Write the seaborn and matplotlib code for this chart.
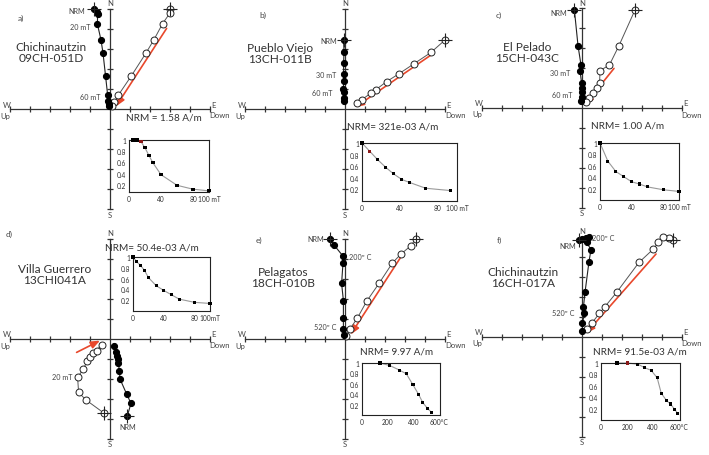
import matplotlib
matplotlib.use("Agg")
import matplotlib.pyplot as plt
import seaborn as sns

W, H = 709, 456

sns.set_theme(style="white")
plt.rcParams["font.family"] = ["Lato", "DejaVu Sans"]

# ── DATA ── (Zijderveld values in axis-tick units, NRM step first)
# a) Chichinautzin 09CH-051D
a_hor_e = [-0.78, -0.67, -0.62, -0.63, -0.45, -0.35, -0.22, -0.12, -0.08, -0.05, -0.03]
a_hor_n = [5.0, 4.87, 4.75, 4.25, 3.45, 2.8, 1.63, 0.72, 0.42, 0.25, 0.13]
a_ver_d = [3.0, 3.0, 2.63, 2.2, 1.8, 1.05, 0.42, 0.22, 0.08]
a_ver_n = [5.0, 4.8, 4.27, 3.47, 2.8, 1.63, 0.7, 0.33, 0.13]
a_fit_x = [2.83, 0.3]
a_fit_y = [4.03, 0.13]
a_step = [5, 10, 15, 20, 25, 30, 40, 60, 80, 100]
a_mag = [1.0, 1.0, 0.97, 0.86, 0.72, 0.59, 0.38, 0.19, 0.12, 0.09]

# b) Pueblo Viejo 13CH-011B
b_hor_e = [-0.07, -0.05, -0.07, -0.07, -0.07, -0.08, -0.07, -0.07, -0.07]
b_hor_n = [3.45, 2.87, 2.28, 1.75, 1.4, 1.0, 0.83, 0.55, 0.42]
b_ver_d = [5.0, 4.3, 3.43, 2.68, 2.08, 1.55, 1.3, 0.85, 0.62]
b_ver_n = [3.45, 2.83, 2.25, 1.75, 1.37, 0.97, 0.8, 0.47, 0.3]
b_fit_x = [4.3, 0.5]
b_fit_y = [2.7, 0.08]
b_step = [0, 8, 16, 25, 33, 42, 50, 67, 93]
b_mag = [1.0, 0.86, 0.72, 0.58, 0.47, 0.37, 0.32, 0.22, 0.18]

# c) El Pelado 15CH-043C
c_hor_e = [-0.38, -0.2, -0.05, -0.1, -0.02, -0.02, 0.0, -0.02, -0.03]
c_hor_n = [4.9, 3.12, 2.15, 1.87, 1.25, 0.98, 0.78, 0.53, 0.37]
c_ver_d = [2.65, 1.85, 1.37, 0.9, 0.88, 0.73, 0.57, 0.33, 0.2]
c_ver_n = [4.9, 3.12, 2.15, 1.87, 1.25, 0.98, 0.75, 0.5, 0.28]
c_fit_x = [1.6, 0.13]
c_fit_y = [1.98, 0.15]
c_step = [0, 10, 20, 30, 40, 50, 60, 80, 100]
c_mag = [1.0, 0.68, 0.5, 0.41, 0.32, 0.28, 0.23, 0.18, 0.15]

# d) Villa Guerrero 13CHI041A
d_hor_e = [0.87, 1.05, 0.83, 0.5, 0.47, 0.42, 0.42, 0.37, 0.3, 0.22]
d_hor_n = [-3.83, -3.22, -2.75, -2.0, -1.58, -1.22, -1.0, -0.83, -0.67, -0.33]
d_ver_d = [-0.28, -1.2, -1.57, -1.62, -1.33, -1.13, -1.0, -0.83, -0.67, -0.42]
d_ver_n = [-3.72, -3.05, -2.67, -1.92, -1.5, -1.08, -0.88, -0.72, -0.58, -0.28]
d_fit_x = [-1.67, -0.5]
d_fit_y = [-0.67, -0.08]
d_step = [0, 5, 10, 15, 20, 30, 40, 50, 60, 80, 100]
d_mag = [1.0, 0.91, 0.84, 0.75, 0.62, 0.47, 0.38, 0.30, 0.22, 0.16, 0.14]

# e) Pelagatos 18CH-010B
e_hor_e = [-0.75, -0.55, -0.12, -0.1, -0.17, -0.08, -0.08, -0.08, -0.05]
e_hor_n = [5.0, 4.7, 4.17, 3.8, 2.78, 1.92, 1.05, 0.5, 0.2]
e_ver_d = [3.53, 3.3, 2.78, 2.37, 1.7, 1.08, 0.62, 0.25, 0.05]
e_ver_n = [5.0, 4.67, 4.23, 3.8, 2.78, 1.88, 1.05, 0.5, 0.17]
e_fit_x = [2.78, 0.28]
e_fit_y = [4.08, 0.22]
e_step = [140, 217, 294, 345, 396, 439, 472, 511, 541]
e_mag = [1.0, 0.95, 0.86, 0.79, 0.58, 0.4, 0.24, 0.12, 0.05]

# f) Chichinautzin 16CH-017A
f_hor_e = [-0.15, 0.02, 0.18, 0.35, 0.23, 0.45, 0.35, 0.15, 0.07, 0.12, 0.02, 0.02]
f_hor_n = [4.87, 4.9, 4.95, 5.02, 4.73, 4.37, 3.77, 2.23, 1.48, 1.18, 0.68, 0.28]
f_ver_d = [4.57, 4.37, 4.07, 3.82, 3.57, 2.85, 1.73, 1.15, 0.87, 0.48, 0.27]
f_ver_n = [4.85, 4.95, 5.02, 4.73, 4.4, 3.73, 2.23, 1.52, 1.18, 0.68, 0.4]
f_fit_x = [3.7, 0.2]
f_fit_y = [4.15, 0.18]
f_step = [123, 200, 282, 333, 385, 431, 462, 503, 533, 564, 590]
f_mag = [1.0, 1.0, 0.98, 0.92, 0.87, 0.74, 0.47, 0.34, 0.28, 0.19, 0.11]

names = ["Chichinautzin\n09CH-051D", "Pueblo Viejo\n13CH-011B", "El Pelado\n15CH-043C",
         "Villa Guerrero\n13CHI041A", "Pelagatos\n18CH-010B", "Chichinautzin\n16CH-017A"]
nrm_labels = ["NRM = 1.58 A/m", "NRM= 321e-03 A/m", "NRM= 1.00 A/m",
              "NRM= 50.4e-03 A/m", "NRM= 9.97 A/m", "NRM= 91.5e-03 A/m"]
letters = ["a)", "b)", "c)", "d)", "e)", "f)"]
af_ticks = [0, 40, 80, 100]
th_ticks = [0, 200, 400, 600]

# ── LAYOUT (pixels) ──
origins = [(110, 110), (345, 110), (582, 109), (110, 340), (345, 340), (582, 338)]
inset_boxes = [(129, 141, 209, 193), (362, 144, 457, 202), (600, 144, 679, 201),
               (133, 258, 210, 312), (362, 364, 440, 416), (601, 364, 680, 421)]
name_pos = [(51, 53), (280, 54), (527, 53), (55, 275), (283, 278), (523, 278)]
nrm_pos = [(164, 118), (393, 127), (628, 126), (152, 248), (397, 352), (640, 352)]
letter_pos = [(21, 18), (263, 15), (499, 15), (9, 234), (259, 240), (499, 240)]
# step labels: (x, y, text, ha)
step_labels = [
    [(85, 11, "NRM", "right"), (90, 28, "20 mT", "right"), (101, 97, "60 mT", "right")],
    [(337, 41, "NRM", "right"), (336, 76, "30 mT", "right"), (333, 94, "60 mT", "right")],
    [(567, 13, "NRM", "right"), (570, 73, "30 mT", "right"), (573, 95, "60 mT", "right")],
    [(73, 378, "20 mT", "right"), (128, 428, "NRM", "center")],
    [(324, 240, "NRM", "right"), (349, 257, "200º C", "left"), (336, 328, "520º C", "right")],
    [(576, 247, "NRM", "right"), (592, 239, "200º C", "left"), (575, 314, "520º C", "right")],
]

panels = [
    (a_hor_e, a_hor_n, a_ver_d, a_ver_n, a_fit_x, a_fit_y, a_step, a_mag, 2, (0.07, 1.0), "af"),
    (b_hor_e, b_hor_n, b_ver_d, b_ver_n, b_fit_x, b_fit_y, b_step, b_mag, 1, (0.0, 1.0), "af"),
    (c_hor_e, c_hor_n, c_ver_d, c_ver_n, c_fit_x, c_fit_y, c_step, c_mag, None, (0.0, 1.0), "af"),
    (d_hor_e, d_hor_n, d_ver_d, d_ver_n, d_fit_x, d_fit_y, d_step, d_mag, None, (0.0, 1.0), "af2"),
    (e_hor_e, e_hor_n, e_ver_d, e_ver_n, e_fit_x, e_fit_y, e_step, e_mag, None, (0.0, 1.0), "th"),
    (f_hor_e, f_hor_n, f_ver_d, f_ver_n, f_fit_x, f_fit_y, f_step, f_mag, 1, (0.0, 1.0), "th"),
]

AX_COL = "#333333"
TXT_COL = "#444444"
RED = "#e8482c"

fig = plt.figure(figsize=(W / 100, H / 100), dpi=100)


def fx(px):
    return px / W


def fy(py):
    return 1 - py / H


def ftext(px, py, s, **kw):
    fig.text(fx(px), fy(py), s, va="center", **kw)


for i, p in enumerate(panels):
    he, hn, vd, vn, fitx, fity, step, mag, red_i, ylim, kind = p
    ox, oy = origins[i]

    ax = fig.add_axes([fx(ox - 100), fy(oy + 100), 200 / W, 200 / H])
    ax.set_facecolor("none")
    ax.set_xlim(-5, 5)
    ax.set_ylim(-5, 5)
    for s in ["top", "right"]:
        ax.spines[s].set_visible(False)
    for s in ["left", "bottom"]:
        ax.spines[s].set_position(("data", 0))
        ax.spines[s].set_color(AX_COL)
        ax.spines[s].set_linewidth(0.9)
    ticks = [-5, -4, -3, -2, -1, 1, 2, 3, 4, 5]
    ax.set_xticks(ticks)
    ax.set_yticks(ticks)
    ax.set_xticklabels([])
    ax.set_yticklabels([])
    ax.tick_params(bottom=True, left=True, direction="inout", length=5,
                   width=0.9, color=AX_COL)

    # fitted direction
    ax.annotate("", xy=(fitx[1], fity[1]), xytext=(fitx[0], fity[0]),
                arrowprops=dict(arrowstyle="-|>,head_length=0.45,head_width=0.18",
                                color=RED, lw=1.2, shrinkA=0, shrinkB=0), zorder=2)

    # vertical projection (open) and horizontal projection (filled)
    sns.lineplot(x=vd, y=vn, sort=False, estimator=None, ax=ax, color="#555555",
                 lw=0.7, marker="o", markersize=5, markerfacecolor="white",
                 markeredgecolor="#222222", markeredgewidth=0.7, clip_on=False, zorder=3)
    sns.lineplot(x=he, y=hn, sort=False, estimator=None, ax=ax, color="#222222",
                 lw=0.8, marker="o", markersize=4.4, markerfacecolor="black",
                 markeredgecolor="black", clip_on=False, zorder=4)
    sns.scatterplot(x=[vd[0], he[0]], y=[vn[0], hn[0]], marker="+", s=110,
                    color="#222222", linewidth=0.8, ax=ax, zorder=5, clip_on=False)

    # axis end labels
    ftext(ox, oy - 106, "N", ha="center", fontsize=5.5, color=TXT_COL)
    ftext(ox, oy + 105, "S", ha="center", fontsize=5.5, color=TXT_COL)
    ftext(ox - 103, oy - 5, "W", ha="center", fontsize=5.5, color=TXT_COL)
    ftext(ox - 105, oy + 6, "Up", ha="center", fontsize=5.5, color=TXT_COL)
    ftext(ox + 103, oy - 5, "E", ha="center", fontsize=5.5, color=TXT_COL)
    ftext(ox + 110, oy + 6, "Down", ha="center", fontsize=5.5, color=TXT_COL)

    ftext(*letter_pos[i], letters[i], ha="center", fontsize=6, color=TXT_COL)
    ftext(*name_pos[i], names[i], ha="center", fontsize=8.6, color="#333333",
          linespacing=1.1)
    ftext(*nrm_pos[i], nrm_labels[i], ha="center", fontsize=7.2, color="#333333")
    for (lx, ly, lt, lha) in step_labels[i]:
        ftext(lx, ly, lt, ha=lha, fontsize=5.2, color=TXT_COL)

    # demagnetization inset
    x0, y0, x1, y1 = inset_boxes[i]
    ins = fig.add_axes([fx(x0), fy(y1), (x1 - x0) / W, (y1 - y0) / H])
    ins.set_facecolor("white")
    sns.lineplot(x=step, y=mag, sort=False, estimator=None, ax=ins, color="#9a9a9a",
                 lw=0.8, clip_on=False)
    pt_cols = ["#8b1a1a" if k == red_i else "black" for k in range(len(step))]
    sns.scatterplot(x=step, y=mag, ax=ins, marker="s", s=5, c=pt_cols,
                    linewidth=0, zorder=4, clip_on=False)
    if kind == "th":
        ins.set_xlim(0, 606)
        ins.set_xticks(th_ticks)
        ins.set_xticklabels(["0", "200", "400", "600°C"])
    else:
        ins.set_xlim(0, 100)
        ins.set_xticks(af_ticks)
        ins.set_xticklabels(["0", "40", "80", "100mT" if kind == "af2" else "100 mT"])
    ins.set_ylim(*ylim)
    ins.set_yticks([0.2, 0.4, 0.6, 0.8, 1.0])
    ins.set_yticklabels(["0.2", "0.4", "0.6", "0.8", "1"])
    ins.tick_params(length=0, pad=2, labelsize=4.8, labelcolor="#333333")
    for s in ins.spines.values():
        s.set_color("#222222")
        s.set_linewidth(0.8)

plt.savefig("out.png", dpi=100)
